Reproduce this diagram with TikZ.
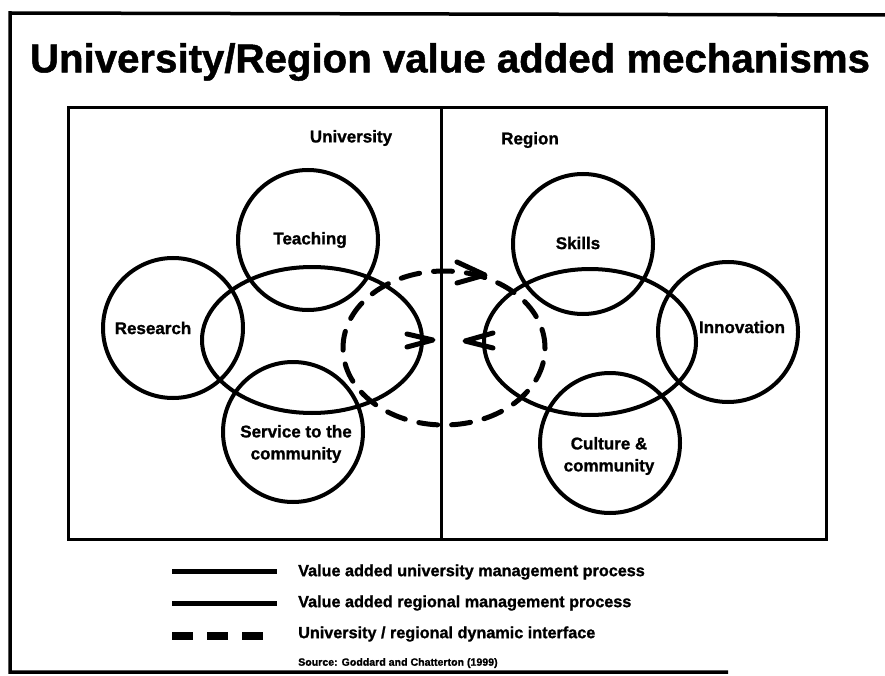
\documentclass[tikz,border=0pt]{standalone}
\usepackage{fontspec}
\setmainfont{Liberation Sans}[BoldFeatures={FakeBold=1.2}]
\usetikzlibrary{shapes.geometric}

\tikzset{
  ring/.style={circle, draw, line width=4, minimum size=140, inner sep=0},
  oval/.style={ellipse, draw, line width=4, inner sep=0},
  tag/.style={font=\fontsize{17}{22}\selectfont\bfseries, align=center, inner sep=0},
  interface/.style={line width=5, line cap=round, dash pattern=on 19 off 14},
  chevron/.style={line width=5, line cap=round, line join=round},
  keytext/.style={anchor=west, font=\fontsize{16.2}{19}\selectfont\bfseries, inner sep=0}
}

\begin{document}
\begin{tikzpicture}[x=1pt, y=-1pt]
    \useasboundingbox (0,0) rectangle (885,676);

    \draw[line width=3.5] (885,15) -- (10,13) -- (10,672) -- (728,672);
    \node[font=\fontsize{40.2}{48}\selectfont\bfseries] (title) at (450,62) {University/Region value added mechanisms};

    \draw[line width=3] (68,108) rectangle (826,539);
    \draw[line width=3] (441,108) -- (441,539);
    \node[tag] (unihead) at (351,138) {University};
    \node[tag] (reghead) at (530,140) {Region};

    \node[ring] (teaching) at (308,240) {};
    \node[ring] (research) at (173,328) {};
    \node[ring] (service) at (293,432) {};
    \node[oval, minimum width=220, minimum height=146] (uniproc) at (312,340) {};
    \node[tag] (teachingtxt) at (310,240) {Teaching};
    \node[tag] (researchtxt) at (153,328) {Research};
    \node[tag] (servicetxt) at (296,444) {Service to the\\community};

    \node[ring] (skills) at (583,244) {};
    \node[ring] (innovation) at (728,332) {};
    \node[ring] (culture) at (610,443) {};
    \node[oval, minimum width=212, minimum height=146] (regproc) at (590,342) {};
    \node[tag] (skillstxt) at (578,243) {Skills};
    \node[tag] (innovationtxt) at (742,327) {Innovation};
    \node[tag] (culturetxt) at (609,456) {Culture \&\\community};

    \node[ellipse, interface, draw, minimum width=202, minimum height=154, inner sep=0] (loop) at (444,348) {};
    \draw[chevron] (457,262) -- (485,275) -- (457,283);
    \draw[chevron] (407,334) -- (433,340) -- (407,347);
    \draw[chevron] (493,333) -- (465,341) -- (493,348);

    \draw[line width=5] (172,571) -- (277,571);
    \draw[line width=5] (172,603) -- (277,603);
    \draw[line width=8, dash pattern=on 21 off 14] (172,636) -- (263,636);
    \node[keytext] (key1) at (298,572) {Value added university management process};
    \node[keytext] (key2) at (298,603) {Value added regional management process};
    \node[keytext] (key3) at (298,634) {University / regional dynamic interface};
    \node[keytext, font=\fontsize{10.6}{13}\selectfont\bfseries] (source) at (298,663) {Source: Goddard and Chatterton (1999)};
\end{tikzpicture}
\end{document}
